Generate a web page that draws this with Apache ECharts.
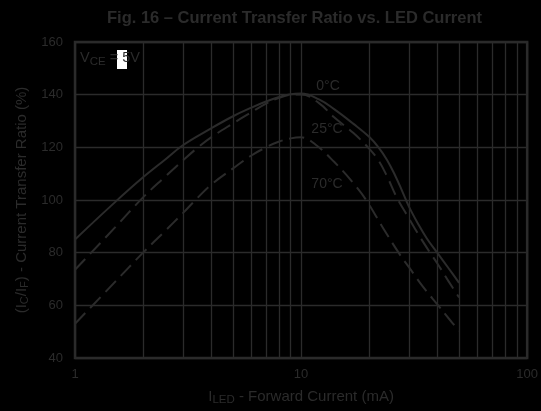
<!DOCTYPE html>
<html>
<head>
<meta charset="utf-8">
<script src="https://cdn.jsdelivr.net/npm/echarts@6/dist/echarts.min.js"></script>
<style>
html,body{margin:0;padding:0;background:#000;}
#chart{width:541px;height:411px;}
</style>
</head>
<body>
<div id="chart"></div>
<script>
// ---- data ----
const current0 = [1, 1.5, 2, 2.5, 3, 4, 5, 6, 7, 8, 9, 10, 12, 14, 17, 20, 22, 24, 26, 28, 30, 33, 36, 40, 45, 50];
const ctr0     = [85, 99.1, 108.6, 115.3, 120.8, 127.2, 131.8, 135, 137.4, 139.1, 140.2, 140.4, 138.2, 134.5, 129, 124, 120, 115.2, 109.5, 103.4, 97.5, 90.8, 85.4, 80, 74, 68.5];

const current25 = [1, 1.5, 2, 2.5, 3, 3.5, 4, 5, 6, 7, 8, 9, 10, 12, 14, 17, 20, 22, 24, 26.5, 30, 33, 37, 40, 45, 50];
const ctr25     = [73.5, 89.5, 101, 108.8, 115, 120, 123.8, 129.1, 133.2, 136.6, 138.8, 140, 140.1, 136.8, 131.4, 125.5, 119.5, 115, 109, 101, 93, 87, 80.3, 76, 69, 63];

const current70 = [1, 1.5, 2, 2.5, 3, 3.5, 4, 5, 6, 7, 8, 9, 10, 11.6, 14, 17, 19.4, 23, 27, 30, 35, 40.4, 45, 50];
const ctr70     = [53, 68.8, 80, 88.2, 95, 101, 105.8, 112, 116.8, 120, 122.2, 123.4, 123.8, 121, 114.5, 106.5, 100, 89.5, 80, 74.5, 66.5, 60, 55, 50.3];

const minorGridX = [2, 3, 4, 5, 6, 7, 8, 9, 20, 30, 40, 50, 60, 70, 80, 90];
const seriesNames = ['0°C', '25°C', '70°C'];

const C = '#2b2b2b';
const FONT = 'Liberation Sans, Arial, Helvetica, sans-serif';

function pairs(xs, ys){ return xs.map((x,i)=>[x, ys[i]]); }

const chart = echarts.init(document.getElementById('chart'), null, {renderer:'canvas'});
chart.setOption({
  backgroundColor: '#000',
  animation: false,
  textStyle: {fontFamily: FONT, color: C},
  title: {
    text: 'Fig. 16 – Current Transfer Ratio vs. LED Current',
    left: 102, top: 5,
    textStyle: {color: C, fontSize: 16.5, fontWeight: 'bold', fontFamily: FONT}
  },
  grid: {left: 75, right: 8, top: 42, bottom: 50, show: true, borderColor: C, borderWidth: 2.5, backgroundColor: 'transparent'},
  xAxis: {
    type: 'log', logBase: 10, min: 1, max: 100,
    axisLine: {show: false}, axisTick: {show: false},
    axisLabel: {color: C, fontSize: 13, fontFamily: FONT, margin: 10, showMaxLabel: true},
    splitLine: {show: true, lineStyle: {color: C, width: 1.3}},
    name: '{n|I}{s|LED}{n| - Forward Current (mA)}',
    nameLocation: 'middle', nameGap: 29,
    nameTextStyle: {color: C, fontFamily: FONT, rich: {
      n: {fontSize: 15, color: C, fontFamily: FONT},
      s: {fontSize: 11.5, color: C, fontFamily: FONT, padding: [7,0,0,0]}
    }}
  },
  yAxis: {
    type: 'value', min: 40, max: 160, interval: 20,
    axisLine: {show: false}, axisTick: {show: false},
    axisLabel: {color: C, fontSize: 13, fontFamily: FONT, margin: 12},
    splitLine: {show: true, lineStyle: {color: C, width: 1.3}},
    name: '{n|(I}{s|C}{n|/I}{s|F}{n|) - Current Transfer Ratio (%)}',
    nameLocation: 'middle', nameGap: 43,
    nameTextStyle: {color: C, fontFamily: FONT, rich: {
      n: {fontSize: 15, color: C, fontFamily: FONT},
      s: {fontSize: 11, color: C, fontFamily: FONT, padding: [7,0,0,0]}
    }}
  },
  series: [
    {
      name: seriesNames[0], type: 'line', data: pairs(current0, ctr0), smooth: 0.4,
      symbol: 'none', lineStyle: {color: C, width: 2},
      markLine: {
        silent: true, symbol: ['none','none'], label: {show: false},
        lineStyle: {color: C, width: 1.3, type: 'solid'},
        data: minorGridX.map(v => ({xAxis: v}))
      }
    },
    {
      name: seriesNames[1], type: 'line', data: pairs(current25, ctr25), smooth: 0.4,
      symbol: 'none', lineStyle: {color: C, width: 2, type: [15, 7]}
    },
    {
      name: seriesNames[2], type: 'line', data: pairs(current70, ctr70), smooth: 0.4,
      symbol: 'none', lineStyle: {color: C, width: 2, type: [15, 7]}
    }
  ],
  graphic: [
    {type: 'rect', shape: {x: 117, y: 50, width: 10, height: 19}, style: {fill: '#fff'}, z: 10},
    {type: 'text', x: 80, y: 58, z: 11, style: {
      text: '{n|V}{s|CE}{n| = 5V}', verticalAlign: 'middle', fill: C, font: '14.5px ' + FONT,
      rich: {n: {fontSize: 14.5, fill: C, fontFamily: FONT}, s: {fontSize: 11.5, fill: C, fontFamily: FONT, padding: [7,0,0,0]}}
    }},
    {type: 'text', x: 328, y: 86, z: 11, style: {text: seriesNames[0], textAlign: 'center', textVerticalAlign: 'middle', fill: C, font: '14px ' + FONT}},
    {type: 'text', x: 327, y: 129, z: 11, style: {text: seriesNames[1], textAlign: 'center', textVerticalAlign: 'middle', fill: C, font: '14px ' + FONT}},
    {type: 'text', x: 327, y: 184, z: 11, style: {text: seriesNames[2], textAlign: 'center', textVerticalAlign: 'middle', fill: C, font: '14px ' + FONT}}
  ]
});
</script>
</body>
</html>
